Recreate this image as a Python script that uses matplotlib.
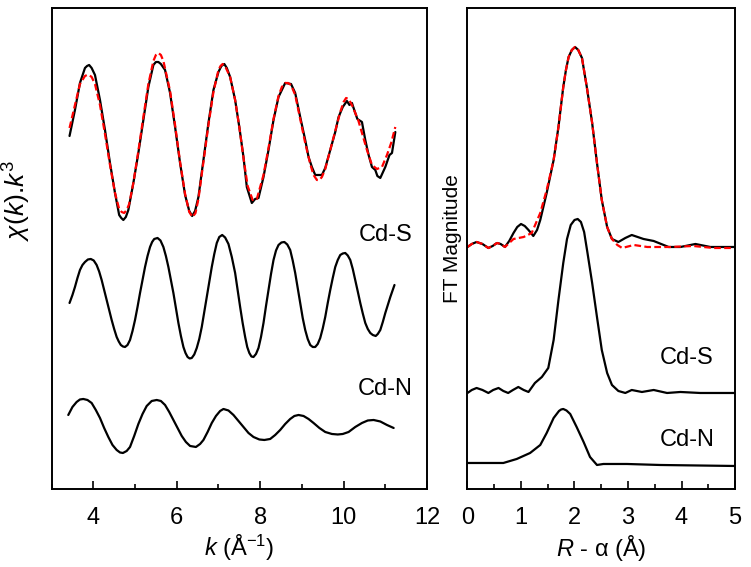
import matplotlib
matplotlib.use("Agg")
import matplotlib.pyplot as plt
from matplotlib.ticker import MultipleLocator, NullLocator

plt.rcParams['font.family'] = ['Liberation Sans', 'DejaVu Sans']
plt.rcParams['mathtext.fontset'] = 'custom'
plt.rcParams['mathtext.rm'] = 'Liberation Sans'
plt.rcParams['mathtext.it'] = 'Liberation Sans:italic'

# ---- left panel: k^3-weighted EXAFS (offset stack, arbitrary units) ----
k_exp = [3.43, 3.56, 3.68, 3.80, 3.85, 3.90, 3.96, 4.04, 4.16, 4.28, 4.40, 4.52,
         4.62, 4.67, 4.72, 4.78, 4.84, 4.96, 5.08, 5.20, 5.32, 5.44, 5.50, 5.56,
         5.62, 5.72, 5.84, 5.96, 6.08, 6.20, 6.30, 6.37, 6.44, 6.52, 6.64, 6.76,
         6.88, 7.00, 7.07, 7.14, 7.20, 7.28, 7.40, 7.50, 7.60, 7.68, 7.80, 7.88,
         7.96, 8.08, 8.20, 8.32, 8.44, 8.60, 8.74, 8.84, 8.96, 9.08, 9.16, 9.24,
         9.32, 9.48, 9.56, 9.68, 9.80, 9.88, 9.98, 10.08, 10.14, 10.20, 10.28,
         10.33, 10.44, 10.52, 10.60, 10.68, 10.76, 10.81, 10.88, 11.00, 11.10,
         11.16, 11.24]
chi_exp = [353, 379, 406, 421, 423, 424, 421, 414, 389, 359, 326, 296,
           274, 271, 269, 272, 279, 306, 336, 369, 402, 424, 427, 427,
           425, 419, 396, 362, 326, 294, 278, 273, 278, 292, 329, 366,
           399, 417, 423, 425, 421, 412, 389, 362, 332, 302, 286, 290,
           291, 312, 339, 369, 392, 406, 405, 396, 372, 349, 332, 322,
           314, 314, 321, 339, 357, 372, 382, 388, 384, 386, 376,
           370, 367, 349, 334, 322, 319, 313, 311, 322, 334,
           336, 357]

k_fit = [3.43, 3.56, 3.68, 3.80, 3.85, 3.90, 3.96, 4.04, 4.16, 4.28, 4.40, 4.52,
         4.62, 4.68, 4.74, 4.80, 4.86, 4.96, 5.08, 5.20, 5.32, 5.44, 5.50, 5.56,
         5.62, 5.68, 5.84, 5.96, 6.08, 6.20, 6.30, 6.38, 6.45, 6.52, 6.64, 6.76,
         6.88, 7.00, 7.05, 7.10, 7.18, 7.28, 7.40, 7.50, 7.60, 7.70, 7.82, 7.92,
         8.08, 8.20, 8.32, 8.44, 8.52, 8.60, 8.67, 8.74, 8.84, 8.96, 9.08, 9.20,
         9.28, 9.36, 9.42, 9.48, 9.56, 9.68, 9.80, 9.92, 10.00, 10.06, 10.12,
         10.20, 10.35, 10.56, 10.68, 10.80, 10.92, 11.04, 11.14, 11.24]
chi_fit = [361, 384, 405, 413, 414, 414, 412, 405, 384, 355, 324, 296,
           280, 277, 276, 279, 285, 306, 338, 372, 405, 428, 434, 436,
           434, 428, 398, 364, 327, 295, 277, 272, 276, 290, 327, 364,
           397, 419, 423, 425, 421, 412, 389, 362, 331, 303, 289, 290,
           314, 341, 370, 393, 402, 406, 406, 404, 394, 370, 346, 325,
           314, 309, 309, 312, 320, 339, 358, 377, 387, 391, 390,
           384, 369, 339, 324, 320, 322, 334, 346, 362]

k_cds = [3.43, 3.50, 3.56, 3.62, 3.68, 3.74, 3.80, 3.87, 3.94, 4.01, 4.08, 4.14,
         4.20, 4.26, 4.32, 4.38, 4.44, 4.50, 4.56, 4.61, 4.66, 4.71, 4.76, 4.82,
         4.88, 4.94, 5.00, 5.06, 5.12, 5.18, 5.24, 5.30, 5.36, 5.41, 5.46, 5.54,
         5.61, 5.68, 5.74, 5.80, 5.86, 5.92, 5.98, 6.04, 6.10, 6.16, 6.21, 6.26,
         6.31, 6.36, 6.42, 6.48, 6.54, 6.60, 6.66, 6.72, 6.78, 6.84, 6.90, 6.96,
         7.02, 7.09, 7.16, 7.24, 7.32, 7.40, 7.46, 7.52, 7.58, 7.64, 7.69, 7.74,
         7.79, 7.84, 7.90, 7.96, 8.02, 8.08, 8.14, 8.20, 8.26, 8.32, 8.38, 8.44,
         8.51, 8.58, 8.65, 8.72, 8.78, 8.84, 8.90, 8.96, 9.02, 9.08, 9.14, 9.20,
         9.26, 9.32, 9.38, 9.44, 9.50, 9.56, 9.62, 9.68, 9.74, 9.80, 9.86, 9.92,
         9.98, 10.04, 10.10, 10.16, 10.22, 10.28, 10.34, 10.40, 10.46, 10.52,
         10.58, 10.64, 10.70, 10.77, 10.82, 10.88, 10.94, 11.00, 11.06, 11.12,
         11.22]
chi_cds = [186, 194, 202, 211, 219, 224, 227, 229.5, 230, 228.5, 224, 217.5,
           209, 199, 189, 179, 169, 160, 152, 147.5, 144, 142.5, 142, 144,
           149, 158, 169, 182, 196, 209, 222, 233, 242, 247, 250, 251,
           248.5, 242, 233, 222, 209, 196, 181, 166, 153, 142, 136, 132,
           130.5, 131, 134.5, 141, 150, 162, 177, 192, 207, 222, 235, 246,
           252, 254, 251.5, 245, 232, 216, 199, 182, 166, 152, 142, 136,
           132.5, 132, 135, 141, 152, 166, 183, 199, 215, 229, 238.5, 244,
           246.5, 247, 244.5, 239, 228.5, 216, 201, 186, 171, 159, 150, 144,
           142, 142, 145, 151, 160.5, 172, 186, 199, 211, 222, 229, 234,
           235.5, 236, 233.5, 229, 220, 209, 197.5, 186, 175.5, 166,
           160, 156, 154, 153, 155, 159, 167, 176, 184, 192,
           204]

k_cdn = [3.40, 3.50, 3.60, 3.68, 3.76, 3.86, 3.96, 4.06, 4.16, 4.26, 4.36, 4.46,
         4.56, 4.64, 4.71, 4.80, 4.88, 4.98, 5.08, 5.18, 5.28, 5.40, 5.52, 5.62,
         5.72, 5.82, 5.92, 6.02, 6.12, 6.22, 6.32, 6.46, 6.56, 6.64, 6.74, 6.84,
         6.94, 7.04, 7.12, 7.24, 7.36, 7.48, 7.60, 7.72, 7.84, 7.98, 8.10, 8.24,
         8.36, 8.48, 8.60, 8.72, 8.82, 8.92, 9.04, 9.16, 9.28, 9.42, 9.56, 9.72,
         9.86, 9.98, 10.12, 10.28, 10.44, 10.58, 10.72, 10.88, 11.04, 11.20]
chi_cdn = [74, 82, 87, 89.5, 90, 89, 86, 79, 71, 61, 52, 44,
           39, 36.5, 36, 38, 42, 53, 65, 75, 83, 88, 89, 88,
           84, 77, 69, 61, 53, 47, 43, 42, 45, 49, 57, 66,
           73, 78, 80, 78.5, 74, 68, 62, 56, 52, 49.5, 49, 50,
           54, 59, 65, 70, 73, 74, 73, 70, 66, 61, 57, 55,
           54.5, 55, 57, 62, 66, 68.5, 69, 67.5, 64, 61]

# ---- right panel: Fourier transform magnitude (offset stack) ----
r_exp = [0.00, 0.08, 0.17, 0.28, 0.39, 0.47, 0.55, 0.62, 0.70, 0.78, 0.86, 0.93,
         1.00, 1.07, 1.14, 1.23, 1.30, 1.36, 1.48, 1.61, 1.70, 1.79, 1.84, 1.89,
         1.95, 2.01, 2.07, 2.14, 2.18, 2.23, 2.33, 2.42, 2.51, 2.61, 2.70, 2.82,
         2.95, 3.07, 3.18, 3.29, 3.48, 3.76, 3.98, 4.26, 4.54, 5.00]
ft_exp = [242, 245, 247, 245, 241, 243, 246, 245, 242, 248, 256, 262,
          265, 263, 259, 253, 259, 269, 296, 329, 362, 402, 419, 432,
          439, 442, 439, 431, 418, 402, 366, 326, 289, 262, 250, 247,
          251, 254, 252, 250, 248, 242, 242, 245, 242, 242]

r_fit = [0.00, 0.08, 0.17, 0.28, 0.39, 0.47, 0.55, 0.62, 0.70, 0.86, 1.05, 1.20,
         1.36, 1.48, 1.61, 1.70, 1.79, 1.84, 1.89, 1.95, 2.01, 2.07, 2.14, 2.18,
         2.23, 2.33, 2.42, 2.51, 2.61, 2.70, 2.80, 2.89, 3.11, 3.36, 3.79, 4.22,
         4.60, 5.00]
ft_fit = [242, 245, 247, 245, 241, 243, 246, 245, 242, 250, 252, 256,
          276, 299, 329, 362, 402, 419, 432, 439, 442, 439, 431, 418,
          402, 366, 326, 289, 262, 250, 244, 241, 244, 242, 242, 243,
          241, 241]

r_cds = [0.00, 0.08, 0.17, 0.28, 0.39, 0.48, 0.58, 0.67, 0.76, 0.85, 0.95, 1.05,
         1.14, 1.26, 1.39, 1.51, 1.61, 1.70, 1.79, 1.86, 1.93, 2.00, 2.06, 2.12,
         2.18, 2.24, 2.33, 2.42, 2.51, 2.61, 2.70, 2.82, 2.95, 3.07, 3.26, 3.48,
         3.73, 3.98, 4.35, 5.00]
ft_cds = [96, 99, 101, 99, 96, 99, 101, 98, 96, 99, 102, 99,
          97, 106, 112, 121, 149, 189, 226, 250, 264, 269, 270, 267,
          257, 237, 206, 172, 139, 116, 104, 98, 96, 99, 97, 99,
          96, 97, 96, 96]

r_cdn = [0.00, 0.36, 0.67, 0.92, 1.17, 1.36, 1.48, 1.61, 1.71, 1.75, 1.79, 1.85,
         1.92, 2.04, 2.17, 2.29, 2.42, 2.54, 2.98, 3.60, 5.00]
ft_cdn = [26, 26, 26, 30, 36, 44, 56, 71, 78, 79.5, 80, 78.5,
          75, 62, 47, 32, 24, 25, 25, 24, 23]

fig = plt.figure(figsize=(7.51, 5.67), dpi=100)
ax1 = fig.add_axes([0.0687, 0.1376, 0.4999, 0.8483])
ax2 = fig.add_axes([0.6225, 0.1376, 0.3562, 0.8483])

lw = 1.6
dash = (0, (3, 1.5))
line_kw = dict(lw=lw, solid_joinstyle='round', solid_capstyle='round')
ax1.plot(k_exp, chi_exp, color='black', **line_kw)
ax1.plot(k_fit, chi_fit, color='red', lw=lw, ls=dash)
ax1.plot(k_cds, chi_cds, color='black', **line_kw)
ax1.plot(k_cdn, chi_cdn, color='black', **line_kw)
ax1.text(11.0, 254, 'Cd-S', fontsize=17, ha='center', va='center')
ax1.text(11.0, 100, 'Cd-N', fontsize=17, ha='center', va='center')

ax2.plot(r_exp, ft_exp, color='black', **line_kw)
ax2.plot(r_fit, ft_fit, color='red', lw=lw, ls=dash)
ax2.plot(r_cds, ft_cds, color='black', **line_kw)
ax2.plot(r_cdn, ft_cdn, color='black', **line_kw)
ax2.text(4.1, 131, 'Cd-S', fontsize=17, ha='center', va='center')
ax2.text(4.1, 49, 'Cd-N', fontsize=17, ha='center', va='center')

ax1.set_xlim(3, 12)
ax2.set_xlim(0, 5)
for ax in (ax1, ax2):
    ax.set_ylim(0, 481)
    ax.yaxis.set_major_locator(NullLocator())
    ax.tick_params(axis='x', which='both', direction='in', top=False,
                   labelsize=17, pad=13)
    ax.tick_params(axis='x', which='major', length=6, width=1.2)
    ax.tick_params(axis='x', which='minor', length=3.5, width=1.2)
    for s in ax.spines.values():
        s.set_linewidth(1.4)

ax1.xaxis.set_major_locator(MultipleLocator(2))
ax1.xaxis.set_minor_locator(MultipleLocator(1))
ax2.xaxis.set_major_locator(MultipleLocator(1))
ax2.xaxis.set_minor_locator(MultipleLocator(0.5))

ax1.set_xlabel(r'$k$ (Å$^{-1}$)', fontsize=17, labelpad=3)
ax2.set_xlabel(r'$R$ - α (Å)', fontsize=17, labelpad=3)
ax1.set_ylabel(r'$\chi$($k$).$k^3$', fontsize=19)
ax2.set_ylabel('FT Magnitude', fontsize=15)
ax1.yaxis.set_label_coords(-0.05, 0.60)
ax2.yaxis.set_label_coords(-0.022, 0.52)

fig.savefig('out.png', dpi=100)
